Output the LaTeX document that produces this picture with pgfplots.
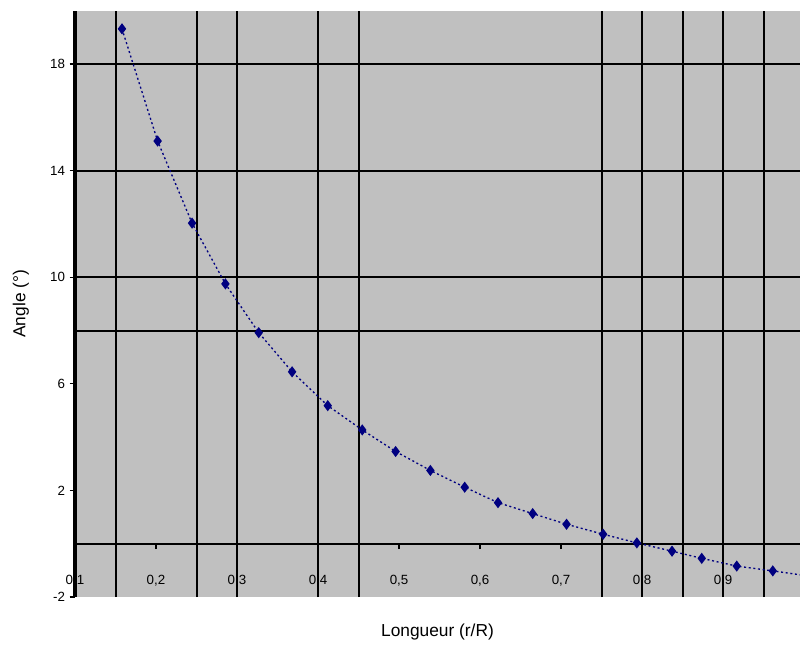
\documentclass[border=0pt]{standalone}
\usepackage{pgfplots}
\pgfplotsset{compat=1.18}
\usepackage{fontspec}
\setmainfont{Liberation Sans}
\definecolor{bgray}{RGB}{192,192,192}
\definecolor{navyblue}{RGB}{0,0,128}
\pgfplotstableread{
x y
0.158 19.32
0.202 15.11
0.2445 12.03
0.2857 9.75
0.3268 7.92
0.368 6.45
0.412 5.18
0.4546 4.27
0.4958 3.46
0.5387 2.75
0.5811 2.12
0.6222 1.54
0.665 1.13
0.7068 0.73
0.752 0.355
0.7936 0.03
0.837 -0.28
0.8737 -0.55
0.9169 -0.84
0.9614 -1.02
1.003 -1.2
}\angledata
\begin{document}
\begin{tikzpicture}
\path[use as bounding box] (-56.25pt,-37.5pt) rectangle (543.75pt,447.75pt);
\begin{axis}[
  at={(0pt,0pt)}, anchor=south west,
  scale only axis, width=543.75pt, height=439.7pt,
  xmin=0.1, xmax=0.995, ymin=-2, ymax=20,
  axis x line=middle, axis y line=left,
  hide obscured x ticks=false, hide obscured y ticks=false,
  axis background/.style={fill=bgray},
  x axis line style={line width=1.5pt, -},
  y axis line style={line width=2.4pt, -},
  xtick={0.1,0.2,0.3,0.4,0.5,0.6,0.7,0.8,0.9},
  ytick={-2,2,6,10,14,18},
  /pgf/number format/assume math mode=true,
  /pgf/number format/use comma,
  /pgf/number format/fixed,
  /pgf/number format/precision=1,
  xticklabel style={anchor=center, yshift=-24pt, font=\fontsize{10}{12}\selectfont},
  yticklabel style={font=\fontsize{10}{12}\selectfont},
  xtick align=outside, ytick align=outside,
  major tick length=4pt,
  tick style={black, line width=1pt},
  unbounded coords=jump,
  xlabel={Longueur (r/R)},
  ylabel={Angle (°)},
  every axis x label/.style={at={(axis description cs:0.5,0)}, anchor=center, yshift=-26.25pt, font=\fontsize{13}{15}\selectfont},
  every axis y label/.style={at={(axis description cs:0,0.5)}, xshift=-40.5pt, rotate=90, anchor=center, font=\fontsize{13}{15}\selectfont},
]
% grid lines (vertical)
\addplot[black, line width=1.5pt, forget plot] coordinates {
 (0.15,-2) (0.15,20) (nan,nan)
 (0.25,-2) (0.25,20) (nan,nan)
 (0.30,-2) (0.30,20) (nan,nan)
 (0.40,-2) (0.40,20) (nan,nan)
 (0.45,-2) (0.45,20) (nan,nan)
 (0.75,-2) (0.75,20) (nan,nan)
 (0.80,-2) (0.80,20) (nan,nan)
 (0.85,-2) (0.85,20) (nan,nan)
 (0.90,-2) (0.90,20) (nan,nan)
 (0.95,-2) (0.95,20)
};
% grid lines (horizontal)
\addplot[black, line width=1.5pt, forget plot] coordinates {
 (0.1,0) (1.0,0) (nan,nan)
 (0.1,8) (1.0,8) (nan,nan)
 (0.1,10) (1.0,10) (nan,nan)
 (0.1,14) (1.0,14) (nan,nan)
 (0.1,18) (1.0,18)
};
\addplot[color=navyblue, line width=1pt, dash pattern=on 1.5pt off 2pt,
  mark=diamond*, mark size=3.4pt, mark options={solid, fill=navyblue}]
  table[x=x, y=y] {\angledata};
\end{axis}
\end{tikzpicture}
\end{document}
